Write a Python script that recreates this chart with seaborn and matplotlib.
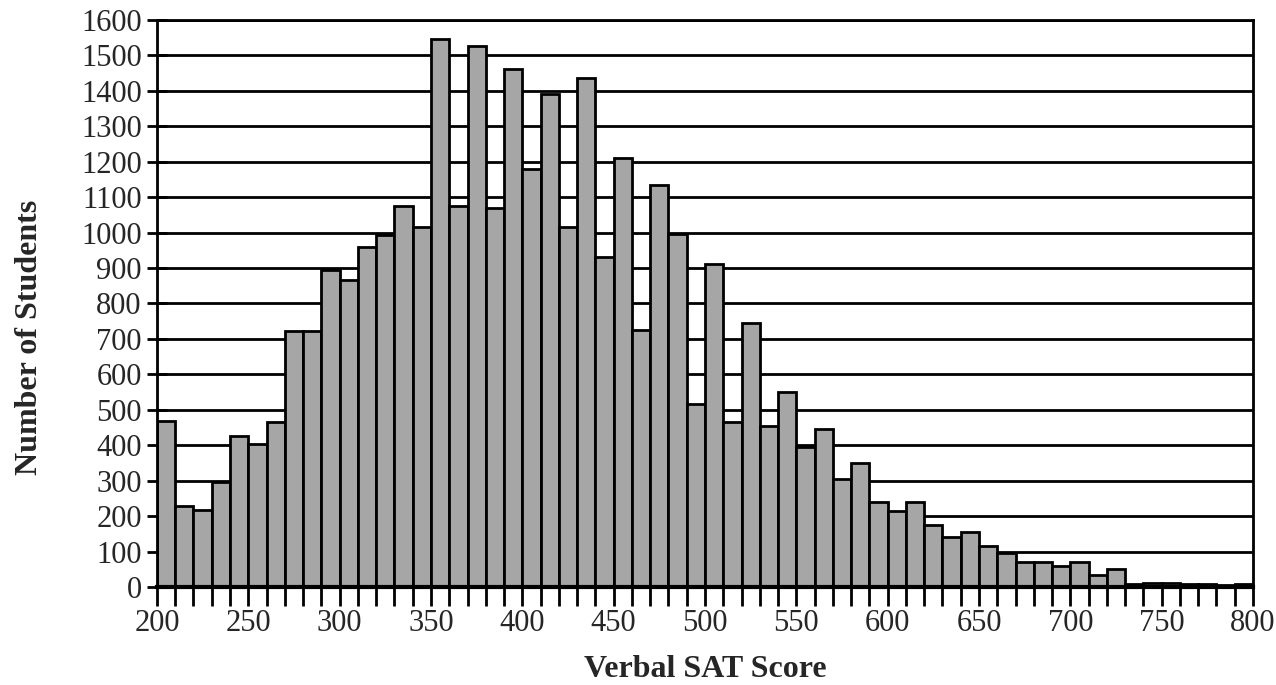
import numpy as np
import pandas as pd
import matplotlib
matplotlib.use("Agg")
import matplotlib.pyplot as plt
import seaborn as sns

# Data: lower edge of each 10-point score bin and number of students
bin_starts = list(range(200, 800, 10))
counts = [467, 230, 216, 297, 427, 404, 465, 722, 722, 895,
          865, 960, 992, 1075, 1015, 1545, 1075, 1525, 1068, 1460,
          1180, 1390, 1015, 1437, 930, 1210, 725, 1135, 995, 515,
          910, 465, 745, 455, 550, 395, 445, 305, 350, 240,
          215, 240, 175, 140, 155, 115, 95, 70, 70, 60,
          70, 35, 50, 10, 12, 12, 10, 8, 5, 8]
x_ticklabels = ["200", "250", "300", "350", "400", "450", "500",
                "550", "600", "650", "700", "750", "800"]
y_ticklabels = [str(v) for v in range(0, 1700, 100)]

df = pd.DataFrame({"score": [b + 5 for b in bin_starts],
                   "n": np.array(counts, dtype=float)})

sns.set_style("white")
plt.rcParams["font.family"] = ["Liberation Serif", "DejaVu Serif"]

fig = plt.figure(figsize=(12.76, 6.85), dpi=100)
ax = fig.add_axes([0.123, 0.143, 0.859, 0.828])

sns.histplot(data=df, x="score", weights="n", binwidth=10, binrange=(200, 800),
             color="#a6a6a6", alpha=1, edgecolor="black", linewidth=2, ax=ax)

ax.set_xlim(200, 800)
ax.set_ylim(0, 1600)
ax.set_axisbelow(True)
ax.yaxis.grid(True, color="black", linewidth=2)
ax.xaxis.grid(False)

ax.set_yticks(range(0, 1700, 100))
ax.set_yticklabels(y_ticklabels)
ax.set_xticks(range(200, 850, 50))
ax.set_xticklabels(x_ticklabels)
ax.set_xticks(range(200, 810, 10), minor=True)

ax.tick_params(axis="y", direction="inout", length=14, width=2, labelsize=22,
               pad=4, left=True, color="black")
ax.tick_params(axis="x", which="both", direction="out", length=14, width=2,
               bottom=True, color="black")
ax.tick_params(axis="x", which="major", labelsize=22, pad=2)

for side in ["left", "right", "top", "bottom"]:
    ax.spines[side].set_visible(True)
    ax.spines[side].set_color("black")
    ax.spines[side].set_linewidth(2)
ax.spines["bottom"].set_linewidth(3)

ax.set_xlabel("Verbal SAT Score", fontsize=23, fontweight="bold", labelpad=12)
ax.set_ylabel("Number of Students", fontsize=23, fontweight="bold")
ax.yaxis.set_label_coords(-0.103, 0.44)

fig.savefig("out.png", dpi=100, facecolor="white")
